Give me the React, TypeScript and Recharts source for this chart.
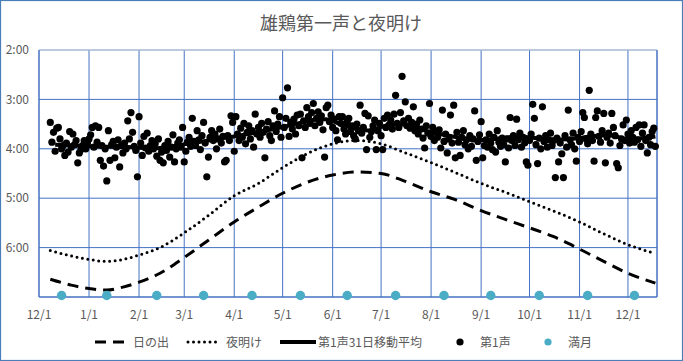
import React from "react";
import {
  ComposedChart,
  Line,
  Scatter,
  XAxis,
  YAxis,
  CartesianGrid,
  ReferenceLine,
} from "recharts";

// day 0 = 12/1, y values in hours (3.5 = 3:30)
const monthTicks = [0, 31, 62, 90, 121, 151, 182, 212, 243, 274, 304, 335, 365];
const monthLabels = ["12/1", "1/1", "2/1", "3/1", "4/1", "5/1", "6/1", "7/1", "8/1", "9/1", "10/1", "11/1", "12/1"];
const hourTicks = [2, 3, 4, 5, 6, 7];
const hourLabels = ["2:00", "3:00", "4:00", "5:00", "6:00", ""];

const curveDays = [7, 20, 31, 42, 52, 62, 75, 90, 105, 121, 136, 151, 166, 182, 197, 212, 227, 243, 258, 274, 289, 304, 319, 335, 350, 365, 382];
const sunriseHours = [6.64, 6.76, 6.83, 6.86, 6.8, 6.7, 6.52, 6.2, 5.85, 5.48, 5.18, 4.9, 4.68, 4.53, 4.47, 4.5, 4.66, 4.87, 5.03, 5.25, 5.43, 5.6, 5.78, 6.03, 6.28, 6.52, 6.72];
const dawnHours = [6.06, 6.17, 6.24, 6.28, 6.24, 6.15, 6.0, 5.7, 5.35, 4.95, 4.7, 4.38, 4.1, 3.9, 3.83, 3.9, 4.08, 4.28, 4.48, 4.7, 4.88, 5.07, 5.26, 5.48, 5.72, 5.94, 6.12];

const avgDays = [10, 20, 31, 42, 52, 62, 72, 82, 92, 102, 112, 121, 131, 141, 151, 161, 171, 178, 185, 194, 204, 213, 221, 231, 242, 255, 265, 275, 285, 298, 309, 320, 332, 342, 352, 365, 375, 382];
const avgHours = [3.92, 3.93, 3.95, 3.96, 3.96, 3.98, 3.99, 3.95, 3.9, 3.85, 3.79, 3.75, 3.69, 3.63, 3.56, 3.48, 3.41, 3.4, 3.48, 3.58, 3.63, 3.55, 3.5, 3.54, 3.66, 3.74, 3.8, 3.82, 3.79, 3.75, 3.79, 3.82, 3.79, 3.75, 3.72, 3.8, 3.78, 3.75];

// first crow, one per day from day 7, minutes after midnight
const crowFirstDay = 7;
const crowMinutes = [
  208, 232, 220, 243, 215, 214, 228, 240, 236, 248,
  233, 244, 219, 238, 222, 235, 230, 257, 245, 241,
  236, 230, 240, 233, 228, 223, 214, 238, 212, 232,
  214, 254, 236, 261, 240, 279, 218, 254, 235, 231,
  251, 238, 229, 262, 236, 245, 233, 240, 206, 228,
  196, 220, 237, 242, 274, 201, 233, 248, 225, 239,
  221, 243, 236, 230, 240, 234, 249, 228, 254, 244,
  257, 236, 242, 231, 250, 238, 223, 256, 240, 233,
  229, 238, 214, 256, 243, 232, 226, 237, 203, 231,
  236, 218, 229, 241, 224, 208, 233, 274, 250, 226,
  218, 230, 222, 240, 228, 216, 233, 225, 256, 254,
  224, 230, 200, 208, 243, 201, 222, 230, 215, 226,
  209, 234, 220, 212, 228, 218, 238, 198, 222, 214,
  226, 209, 220, 251, 216, 207, 224, 230, 212, 194,
  219, 210, 201, 226, 178, 214, 203, 166, 225, 208,
  216, 204, 222, 199, 212, 198, 251, 206, 214, 190,
  201, 209, 196, 185, 212, 203, 195, 208, 200, 217,
  250, 190, 187, 207, 199, 214, 204, 218, 229, 201,
  209, 201, 216, 222, 207, 203, 219, 212, 224, 228,
  210, 218, 187, 221, 214, 197, 241, 200, 226, 219,
  212, 205, 241, 218, 209, 224, 241, 203, 214, 199,
  211, 205, 216, 198, 175, 209, 214, 196, 152, 206,
  183, 212, 203, 215, 208, 189, 218, 210, 222, 205,
  216, 227, 239, 212, 221, 185, 225, 214, 230, 219,
  226, 217, 239, 193, 231, 222, 245, 228, 199, 233,
  187, 251, 220, 232, 248, 226, 218, 235, 229, 240,
  224, 237, 228, 194, 254, 231, 223, 207, 251, 236,
  229, 238, 222, 233, 241, 226, 244, 218, 232, 237,
  227, 235, 256, 228, 239, 202, 230, 224, 236, 204,
  229, 221, 238, 226, 233, 256, 260, 230, 222, 186,
  203, 235, 258, 227, 240, 189, 231, 224, 238, 229,
  221, 236, 230, 275, 227, 256, 233, 246, 275, 224,
  238, 193, 229, 235, 221, 240, 255, 226, 231, 219,
  196, 202, 228, 234, 169, 222, 230, 255, 202, 194,
  225, 232, 218, 197, 257, 226, 221, 233, 197, 214,
  224, 258, 263, 236, 228, 211, 230, 205, 222, 233,
  218, 226, 232, 214, 229, 211, 237, 221, 211, 230,
  245, 226, 235, 219, 215, 237,
];

const moonDays = [14, 42, 73, 102, 132, 162, 191, 221, 251, 280, 310, 340, 369];
const moonLevel = 6.97;

const sunriseData = curveDays.map((d, i) => ({ day: d, t: sunriseHours[i] }));
const dawnData = curveDays.map((d, i) => ({ day: d, t: dawnHours[i] }));
const avgData = avgDays.map((d, i) => ({ day: d, t: avgHours[i] }));
const crowData = crowMinutes.map((m, i) => ({ day: crowFirstDay + i, t: m / 60 }));
const moonData = moonDays.map((d) => ({ day: d, t: moonLevel }));

const FONT = "'Noto Sans CJK JP', 'Noto Sans', sans-serif";
const GRID = "#4472C4";
const TEXT = "#595959";

export default function App() {
  return (
    <div
      style={{
        position: "fixed",
        top: 0,
        left: 0,
        width: 683,
        height: 361,
        background: "#fff",
        fontFamily: FONT,
      }}
    >
      <ComposedChart
        width={683}
        height={361}
        margin={{ top: 50, right: 26, bottom: 34, left: 0 }}
      >
        <CartesianGrid stroke={GRID} strokeWidth={1} />
        <XAxis
          type="number"
          dataKey="day"
          domain={[0, 383]}
          ticks={monthTicks}
          tickFormatter={(v: number) => monthLabels[monthTicks.indexOf(v)] ?? ""}
          tickLine={false}
          tickMargin={7}
          height={30}
          axisLine={{ stroke: GRID }}
          tick={{ fill: TEXT, fontSize: 12, fontFamily: FONT }}
          interval={0}
        />
        <YAxis
          type="number"
          domain={[2, 7]}
          reversed
          ticks={hourTicks}
          tickFormatter={(v: number) => hourLabels[hourTicks.indexOf(v)] ?? ""}
          tickLine={false}
          width={39}
          tickMargin={4}
          axisLine={{ stroke: GRID }}
          tick={{ fill: TEXT, fontSize: 12, fontFamily: FONT }}
          interval={0}
        />
        <ReferenceLine y={2} stroke="#d9d9d9" />
        <ReferenceLine x={383} stroke={GRID} />

        <Line
          data={sunriseData}
          dataKey="t"
          type="monotone"
          stroke="#000"
          strokeWidth={3}
          strokeDasharray="11 7"
          dot={false}
          activeDot={false}
          isAnimationActive={false}
        />
        <Line
          data={dawnData}
          dataKey="t"
          type="monotone"
          stroke="#000"
          strokeWidth={3}
          strokeDasharray="0 5.5"
          strokeLinecap="round"
          dot={false}
          activeDot={false}
          isAnimationActive={false}
        />
        <Scatter
          data={crowData}
          dataKey="t"
          fill="#000"
          isAnimationActive={false}
          shape={(p: any) => <circle cx={p.cx} cy={p.cy} r={3.6} fill="#000" />}
        />
        <Line
          data={avgData}
          dataKey="t"
          type="monotone"
          stroke="#000"
          strokeWidth={4}
          dot={false}
          activeDot={false}
          isAnimationActive={false}
        />
        <Scatter
          data={moonData}
          dataKey="t"
          fill="#4BACC6"
          isAnimationActive={false}
          shape={(p: any) => <circle cx={p.cx} cy={p.cy} r={4.7} fill="#4BACC6" />}
        />
      </ComposedChart>

      {/* title + legend */}
      <svg
        width={683}
        height={361}
        style={{ position: "absolute", top: 0, left: 0, pointerEvents: "none" }}
      >
        <text x={341} y={30} textAnchor="middle" fontSize={18} fill={TEXT} fontFamily={FONT}>
          雄鶏第一声と夜明け
        </text>

        <line x1={95} y1={342} x2={127} y2={342} stroke="#000" strokeWidth={3} strokeDasharray="11 7" />
        <text x={133} y={347} fontSize={12} fill={TEXT} fontFamily={FONT}>日の出</text>

        <line x1={188} y1={342} x2={218} y2={342} stroke="#000" strokeWidth={3} strokeDasharray="0 5.5" strokeLinecap="round" />
        <text x={226} y={347} fontSize={12} fill={TEXT} fontFamily={FONT}>夜明け</text>

        <line x1={280} y1={342} x2={316} y2={342} stroke="#000" strokeWidth={4} />
        <text x={318} y={347} fontSize={12} fill={TEXT} fontFamily={FONT}>第1声31日移動平均</text>

        <circle cx={460} cy={342} r={3.6} fill="#000" />
        <text x={480} y={347} fontSize={12} fill={TEXT} fontFamily={FONT}>第1声</text>

        <circle cx={548} cy={342} r={3.6} fill="#4BACC6" />
        <text x={568} y={347} fontSize={12} fill={TEXT} fontFamily={FONT}>満月</text>

        <rect x={0.5} y={0.5} width={682} height={360} fill="none" stroke="#4A7EBB" strokeWidth={1.2} />
      </svg>
    </div>
  );
}
